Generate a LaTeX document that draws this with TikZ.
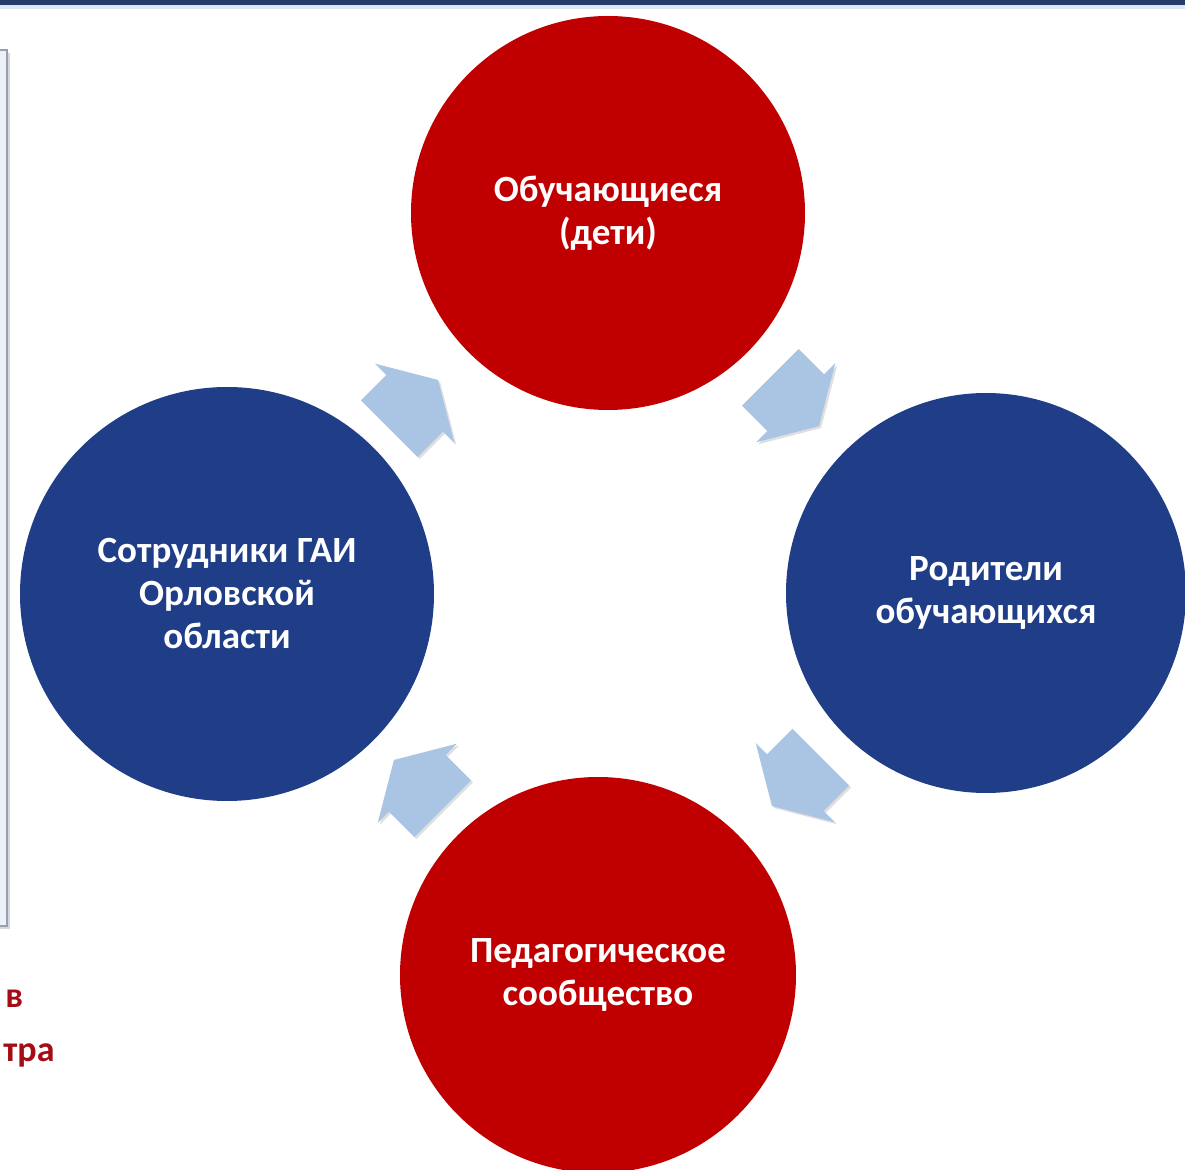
\documentclass[tikz,border=0pt]{standalone}
\usepackage{fontspec}
\setmainfont{Carlito}
\usetikzlibrary{shadows}
\definecolor{cred}{RGB}{192,0,0}
\definecolor{cblue}{RGB}{32,62,136}
\definecolor{carrow}{RGB}{170,196,228}
\definecolor{ctext}{RGB}{165,12,22}
\definecolor{cnavy}{RGB}{38,58,108}
\definecolor{cbox}{RGB}{236,241,248}
\definecolor{cboxline}{RGB}{150,160,178}
\tikzset{
  circ/.style={circle, draw=none, text=white, align=center,
    font=\bfseries\fontsize{18.5}{21.5}\selectfont, inner sep=0pt},
  arrowfill/.style={fill=carrow, draw=none,
    drop shadow={opacity=0.25, shadow xshift=1pt, shadow yshift=-1pt}},
  blockarrow/.pic={
    \path[arrowfill] (-35,-40) -- (1,-40) -- (1,-56) -- (34,0) -- (1,56)
      -- (1,40) -- (-35,40) -- cycle;
  },
  sidetext/.style={text=ctext, font=\bfseries\fontsize{18}{21}\selectfont,
    anchor=base west, inner sep=0pt}
}
\begin{document}
\begin{tikzpicture}[x=0.5pt,y=-0.5pt]
\useasboundingbox (0,0) rectangle (1185,1170);
\clip (0,0) rectangle (1185,1170);
\fill[white] (0,0) rectangle (1185,1170);
% top rule
\fill[cnavy] (0,0) rectangle (1185,5);
\fill[carrow!40] (0,5) rectangle (1185,9);
% left box (cut off)
\path[fill=cbox, draw=cboxline, line width=1pt,
  drop shadow={opacity=0.3, shadow xshift=1.5pt, shadow yshift=-1.5pt}]
  (-30,50) rectangle (7,926);
% circles
\node[circ, fill=cred, minimum size=197pt] (top) at (608,213)
  {Обучающиеся\\(дети)};
\node[circ, fill=cblue, minimum size=200pt] (right) at (986,593)
  {Родители\\обучающихся};
\node[circ, fill=cred, minimum size=198pt] (bottom) at (598,975)
  {Педагогическое\\сообщество};
\node[circ, fill=cblue, minimum size=207pt] (left) at (227,594)
  {Сотрудники ГАИ\\Орловской\\области};
% arrows
\pic[rotate=45] (a1) at (414,404) {blockarrow};
\pic[rotate=-45] (a2) at (795,402) {blockarrow};
\pic[rotate=-135] (a3) at (796,782) {blockarrow};
\pic[rotate=135] (a4) at (418,784) {blockarrow};
% side text
\node[sidetext] (t1) at (5,1008) {в};
\node[sidetext] (t2) at (3,1062) {тра};
\end{tikzpicture}
\end{document}
